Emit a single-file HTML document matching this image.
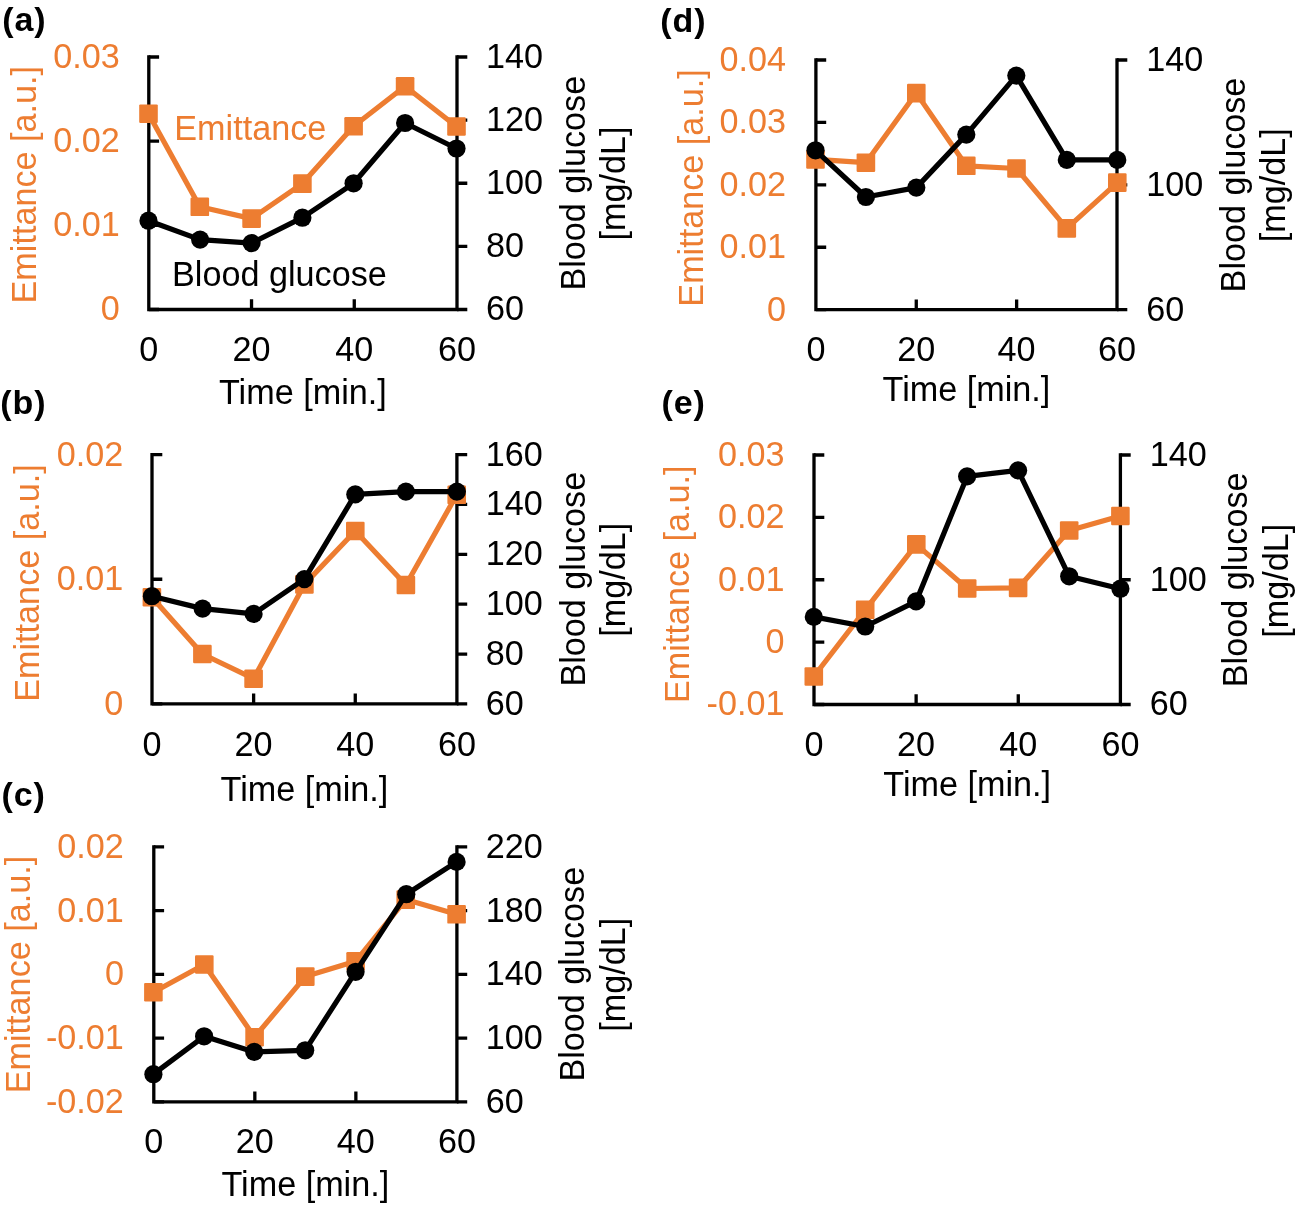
<!DOCTYPE html><html><head><meta charset="utf-8"><style>html,body{margin:0;padding:0;background:#fff;width:1298px;height:1207px;overflow:hidden}svg{display:block;will-change:transform}text{font-family:"Liberation Sans",sans-serif}</style></head><body>
<svg width="1298" height="1207" viewBox="0 0 1298 1207">
<rect width="1298" height="1207" fill="#fff"/>
<g><text x="2.3" y="31.3" font-size="34" font-weight="bold" letter-spacing="0.9" fill="#000">(a)</text><path d="M148.8 57 V309.5 H457 V57" fill="none" stroke="#000" stroke-width="3.3" stroke-linejoin="miter" stroke-linecap="square"/><path d="M148.8 309.5 H159.1 M148.8 225.33 H159.1 M148.8 141.17 H159.1 M148.8 57 H159.1 M457 309.5 H467.3 M457 246.38 H467.3 M457 183.25 H467.3 M457 120.12 H467.3 M457 57 H467.3 M251.53 309.5 V299.2 M354.27 309.5 V299.2" fill="none" stroke="#000" stroke-width="3.3"/><text x="119.7" y="320.46" font-size="34.2" fill="#ED7D31" text-anchor="end">0</text><text x="119.7" y="236.3" font-size="34.2" fill="#ED7D31" text-anchor="end">0.01</text><text x="119.7" y="152.13" font-size="34.2" fill="#ED7D31" text-anchor="end">0.02</text><text x="119.7" y="67.96" font-size="34.2" fill="#ED7D31" text-anchor="end">0.03</text><text x="485.9" y="320.46" font-size="34.2" fill="#000">60</text><text x="485.9" y="257.34" font-size="34.2" fill="#000">80</text><text x="485.9" y="194.21" font-size="34.2" fill="#000">100</text><text x="485.9" y="131.09" font-size="34.2" fill="#000">120</text><text x="485.9" y="67.96" font-size="34.2" fill="#000">140</text><text x="148.8" y="361.2" font-size="34.2" fill="#000" text-anchor="middle">0</text><text x="251.53" y="361.2" font-size="34.2" fill="#000" text-anchor="middle">20</text><text x="354.27" y="361.2" font-size="34.2" fill="#000" text-anchor="middle">40</text><text x="457" y="361.2" font-size="34.2" fill="#000" text-anchor="middle">60</text><text x="302.9" y="404" font-size="34.2" fill="#000" text-anchor="middle">Time [min.]</text><text transform="translate(35.6 184.7) rotate(-90)" font-size="34.2" fill="#ED7D31" text-anchor="middle">Emittance [a.u.]</text><text transform="translate(584.5 183.2) rotate(-90)" font-size="34.2" fill="#000" text-anchor="middle">Blood glucose</text><text transform="translate(624.5 183.6) rotate(-90)" font-size="34.2" fill="#000" text-anchor="middle">[mg/dL]</text><text x="174.3" y="139.8" font-size="34.2" fill="#ED7D31">Emittance</text><text x="172" y="285.8" font-size="34.2" fill="#000">Blood glucose</text><polyline points="148.5,113.7 199.8,206.8 251.6,218.6 302.4,183.6 353.6,126.3 405.1,86.3 456.5,126.5" fill="none" stroke="#ED7D31" stroke-width="5.2" stroke-linejoin="round"/><rect x="139.2" y="104.4" width="18.6" height="18.6" rx="1.2" fill="#ED7D31"/><rect x="190.5" y="197.5" width="18.6" height="18.6" rx="1.2" fill="#ED7D31"/><rect x="242.3" y="209.3" width="18.6" height="18.6" rx="1.2" fill="#ED7D31"/><rect x="293.1" y="174.3" width="18.6" height="18.6" rx="1.2" fill="#ED7D31"/><rect x="344.3" y="117" width="18.6" height="18.6" rx="1.2" fill="#ED7D31"/><rect x="395.8" y="77" width="18.6" height="18.6" rx="1.2" fill="#ED7D31"/><rect x="447.2" y="117.2" width="18.6" height="18.6" rx="1.2" fill="#ED7D31"/><polyline points="148.5,220.7 200.1,239.6 251.6,243.1 302.4,217.7 353.6,183.3 405.1,123 456.5,148.5" fill="none" stroke="#000" stroke-width="5.2" stroke-linejoin="round"/><circle cx="148.5" cy="220.7" r="9.1" fill="#000"/><circle cx="200.1" cy="239.6" r="9.1" fill="#000"/><circle cx="251.6" cy="243.1" r="9.1" fill="#000"/><circle cx="302.4" cy="217.7" r="9.1" fill="#000"/><circle cx="353.6" cy="183.3" r="9.1" fill="#000"/><circle cx="405.1" cy="123" r="9.1" fill="#000"/><circle cx="456.5" cy="148.5" r="9.1" fill="#000"/></g>
<g><text x="0.3" y="413.9" font-size="34" font-weight="bold" letter-spacing="0.9" fill="#000">(b)</text><path d="M152 454.6 V703.9 H456.9 V454.6" fill="none" stroke="#000" stroke-width="3.3" stroke-linejoin="miter" stroke-linecap="square"/><path d="M152 703.9 H162.3 M152 579.25 H162.3 M152 454.6 H162.3 M456.9 703.9 H467.2 M456.9 654.04 H467.2 M456.9 604.18 H467.2 M456.9 554.32 H467.2 M456.9 504.46 H467.2 M456.9 454.6 H467.2 M253.63 703.9 V693.6 M355.27 703.9 V693.6" fill="none" stroke="#000" stroke-width="3.3"/><text x="123.3" y="714.86" font-size="34.2" fill="#ED7D31" text-anchor="end">0</text><text x="123.3" y="590.21" font-size="34.2" fill="#ED7D31" text-anchor="end">0.01</text><text x="123.3" y="465.56" font-size="34.2" fill="#ED7D31" text-anchor="end">0.02</text><text x="485.8" y="714.86" font-size="34.2" fill="#000">60</text><text x="485.8" y="665" font-size="34.2" fill="#000">80</text><text x="485.8" y="615.14" font-size="34.2" fill="#000">100</text><text x="485.8" y="565.28" font-size="34.2" fill="#000">120</text><text x="485.8" y="515.42" font-size="34.2" fill="#000">140</text><text x="485.8" y="465.56" font-size="34.2" fill="#000">160</text><text x="152" y="756.3" font-size="34.2" fill="#000" text-anchor="middle">0</text><text x="253.63" y="756.3" font-size="34.2" fill="#000" text-anchor="middle">20</text><text x="355.27" y="756.3" font-size="34.2" fill="#000" text-anchor="middle">40</text><text x="456.9" y="756.3" font-size="34.2" fill="#000" text-anchor="middle">60</text><text x="304.45" y="801" font-size="34.2" fill="#000" text-anchor="middle">Time [min.]</text><text transform="translate(39 583) rotate(-90)" font-size="34.2" fill="#ED7D31" text-anchor="middle">Emittance [a.u.]</text><text transform="translate(584.5 579.2) rotate(-90)" font-size="34.2" fill="#000" text-anchor="middle">Blood glucose</text><text transform="translate(624.5 579.7) rotate(-90)" font-size="34.2" fill="#000" text-anchor="middle">[mg/dL]</text><polyline points="151.9,597.2 202.4,654 253.6,678.7 304.4,584.4 355.3,531 405.9,585 456.7,494.8" fill="none" stroke="#ED7D31" stroke-width="5.2" stroke-linejoin="round"/><rect x="142.6" y="587.9" width="18.6" height="18.6" rx="1.2" fill="#ED7D31"/><rect x="193.1" y="644.7" width="18.6" height="18.6" rx="1.2" fill="#ED7D31"/><rect x="244.3" y="669.4" width="18.6" height="18.6" rx="1.2" fill="#ED7D31"/><rect x="295.1" y="575.1" width="18.6" height="18.6" rx="1.2" fill="#ED7D31"/><rect x="346" y="521.7" width="18.6" height="18.6" rx="1.2" fill="#ED7D31"/><rect x="396.6" y="575.7" width="18.6" height="18.6" rx="1.2" fill="#ED7D31"/><rect x="447.4" y="485.5" width="18.6" height="18.6" rx="1.2" fill="#ED7D31"/><polyline points="151.9,596.2 202.6,608.6 253.6,613.9 304.4,579.1 355.3,494.4 405.9,491.6 456.9,491.6" fill="none" stroke="#000" stroke-width="5.2" stroke-linejoin="round"/><circle cx="151.9" cy="596.2" r="9.1" fill="#000"/><circle cx="202.6" cy="608.6" r="9.1" fill="#000"/><circle cx="253.6" cy="613.9" r="9.1" fill="#000"/><circle cx="304.4" cy="579.1" r="9.1" fill="#000"/><circle cx="355.3" cy="494.4" r="9.1" fill="#000"/><circle cx="405.9" cy="491.6" r="9.1" fill="#000"/><circle cx="456.9" cy="491.6" r="9.1" fill="#000"/></g>
<g><text x="1.5" y="805.6" font-size="34" font-weight="bold" letter-spacing="0.9" fill="#000">(c)</text><path d="M153.8 846.8 V1101.9 H456.9 V846.8" fill="none" stroke="#000" stroke-width="3.3" stroke-linejoin="miter" stroke-linecap="square"/><path d="M153.8 1101.9 H164.1 M153.8 1038.12 H164.1 M153.8 974.35 H164.1 M153.8 910.58 H164.1 M153.8 846.8 H164.1 M456.9 1101.9 H467.2 M456.9 1038.12 H467.2 M456.9 974.35 H467.2 M456.9 910.58 H467.2 M456.9 846.8 H467.2 M254.83 1101.9 V1091.6 M355.87 1101.9 V1091.6" fill="none" stroke="#000" stroke-width="3.3"/><text x="123.9" y="1112.86" font-size="34.2" fill="#ED7D31" text-anchor="end">-0.02</text><text x="123.9" y="1049.09" font-size="34.2" fill="#ED7D31" text-anchor="end">-0.01</text><text x="123.9" y="985.31" font-size="34.2" fill="#ED7D31" text-anchor="end">0</text><text x="123.9" y="921.54" font-size="34.2" fill="#ED7D31" text-anchor="end">0.01</text><text x="123.9" y="857.76" font-size="34.2" fill="#ED7D31" text-anchor="end">0.02</text><text x="485.8" y="1112.86" font-size="34.2" fill="#000">60</text><text x="485.8" y="1049.09" font-size="34.2" fill="#000">100</text><text x="485.8" y="985.31" font-size="34.2" fill="#000">140</text><text x="485.8" y="921.54" font-size="34.2" fill="#000">180</text><text x="485.8" y="857.76" font-size="34.2" fill="#000">220</text><text x="153.8" y="1153.3" font-size="34.2" fill="#000" text-anchor="middle">0</text><text x="254.83" y="1153.3" font-size="34.2" fill="#000" text-anchor="middle">20</text><text x="355.87" y="1153.3" font-size="34.2" fill="#000" text-anchor="middle">40</text><text x="456.9" y="1153.3" font-size="34.2" fill="#000" text-anchor="middle">60</text><text x="305.35" y="1196" font-size="34.2" fill="#000" text-anchor="middle">Time [min.]</text><text transform="translate(29.6 974.5) rotate(-90)" font-size="34.2" fill="#ED7D31" text-anchor="middle">Emittance [a.u.]</text><text transform="translate(584.3 974.2) rotate(-90)" font-size="34.2" fill="#000" text-anchor="middle">Blood glucose</text><text transform="translate(624.5 974.7) rotate(-90)" font-size="34.2" fill="#000" text-anchor="middle">[mg/dL]</text><polyline points="153.4,992.2 204.3,964.5 254.6,1037.2 305.3,976.6 355.6,961.3 405.7,899.6 456.6,914.3" fill="none" stroke="#ED7D31" stroke-width="5.2" stroke-linejoin="round"/><rect x="144.1" y="982.9" width="18.6" height="18.6" rx="1.2" fill="#ED7D31"/><rect x="195" y="955.2" width="18.6" height="18.6" rx="1.2" fill="#ED7D31"/><rect x="245.3" y="1027.9" width="18.6" height="18.6" rx="1.2" fill="#ED7D31"/><rect x="296" y="967.3" width="18.6" height="18.6" rx="1.2" fill="#ED7D31"/><rect x="346.3" y="952" width="18.6" height="18.6" rx="1.2" fill="#ED7D31"/><rect x="396.4" y="890.3" width="18.6" height="18.6" rx="1.2" fill="#ED7D31"/><rect x="447.3" y="905" width="18.6" height="18.6" rx="1.2" fill="#ED7D31"/><polyline points="153.4,1074.2 204.1,1036.3 254.2,1051.9 305.2,1050.3 355.6,971.8 406.3,894.2 456.6,861.9" fill="none" stroke="#000" stroke-width="5.2" stroke-linejoin="round"/><circle cx="153.4" cy="1074.2" r="9.1" fill="#000"/><circle cx="204.1" cy="1036.3" r="9.1" fill="#000"/><circle cx="254.2" cy="1051.9" r="9.1" fill="#000"/><circle cx="305.2" cy="1050.3" r="9.1" fill="#000"/><circle cx="355.6" cy="971.8" r="9.1" fill="#000"/><circle cx="406.3" cy="894.2" r="9.1" fill="#000"/><circle cx="456.6" cy="861.9" r="9.1" fill="#000"/></g>
<g><text x="660.3" y="31.5" font-size="34" font-weight="bold" letter-spacing="0.9" fill="#000">(d)</text><path d="M815.9 60 V309.7 H1117 V60" fill="none" stroke="#000" stroke-width="3.3" stroke-linejoin="miter" stroke-linecap="square"/><path d="M815.9 309.7 H826.2 M815.9 247.27 H826.2 M815.9 184.85 H826.2 M815.9 122.43 H826.2 M815.9 60 H826.2 M1117 309.7 H1127.3 M1117 184.85 H1127.3 M1117 60 H1127.3 M916.27 309.7 V299.4 M1016.63 309.7 V299.4" fill="none" stroke="#000" stroke-width="3.3"/><text x="786" y="320.66" font-size="34.2" fill="#ED7D31" text-anchor="end">0</text><text x="786" y="258.24" font-size="34.2" fill="#ED7D31" text-anchor="end">0.01</text><text x="786" y="195.81" font-size="34.2" fill="#ED7D31" text-anchor="end">0.02</text><text x="786" y="133.39" font-size="34.2" fill="#ED7D31" text-anchor="end">0.03</text><text x="786" y="70.96" font-size="34.2" fill="#ED7D31" text-anchor="end">0.04</text><text x="1146.2" y="320.66" font-size="34.2" fill="#000">60</text><text x="1146.2" y="195.81" font-size="34.2" fill="#000">100</text><text x="1146.2" y="70.96" font-size="34.2" fill="#000">140</text><text x="815.9" y="361.3" font-size="34.2" fill="#000" text-anchor="middle">0</text><text x="916.27" y="361.3" font-size="34.2" fill="#000" text-anchor="middle">20</text><text x="1016.63" y="361.3" font-size="34.2" fill="#000" text-anchor="middle">40</text><text x="1117" y="361.3" font-size="34.2" fill="#000" text-anchor="middle">60</text><text x="966.45" y="401" font-size="34.2" fill="#000" text-anchor="middle">Time [min.]</text><text transform="translate(702.6 187.9) rotate(-90)" font-size="34.2" fill="#ED7D31" text-anchor="middle">Emittance [a.u.]</text><text transform="translate(1244.5 185) rotate(-90)" font-size="34.2" fill="#000" text-anchor="middle">Blood glucose</text><text transform="translate(1285 185.3) rotate(-90)" font-size="34.2" fill="#000" text-anchor="middle">[mg/dL]</text><polyline points="815.5,159.4 865.9,162.7 916.3,93.1 966.3,165.8 1016.5,168.5 1066.8,228.4 1117.3,182.6" fill="none" stroke="#ED7D31" stroke-width="5.2" stroke-linejoin="round"/><rect x="806.2" y="150.1" width="18.6" height="18.6" rx="1.2" fill="#ED7D31"/><rect x="856.6" y="153.4" width="18.6" height="18.6" rx="1.2" fill="#ED7D31"/><rect x="907" y="83.8" width="18.6" height="18.6" rx="1.2" fill="#ED7D31"/><rect x="957" y="156.5" width="18.6" height="18.6" rx="1.2" fill="#ED7D31"/><rect x="1007.2" y="159.2" width="18.6" height="18.6" rx="1.2" fill="#ED7D31"/><rect x="1057.5" y="219.1" width="18.6" height="18.6" rx="1.2" fill="#ED7D31"/><rect x="1108" y="173.3" width="18.6" height="18.6" rx="1.2" fill="#ED7D31"/><polyline points="815.5,150.3 865.9,197 916.3,187.6 966.3,134.6 1016.3,75.6 1066.8,159.9 1117.3,159.9" fill="none" stroke="#000" stroke-width="5.2" stroke-linejoin="round"/><circle cx="815.5" cy="150.3" r="9.1" fill="#000"/><circle cx="865.9" cy="197" r="9.1" fill="#000"/><circle cx="916.3" cy="187.6" r="9.1" fill="#000"/><circle cx="966.3" cy="134.6" r="9.1" fill="#000"/><circle cx="1016.3" cy="75.6" r="9.1" fill="#000"/><circle cx="1066.8" cy="159.9" r="9.1" fill="#000"/><circle cx="1117.3" cy="159.9" r="9.1" fill="#000"/></g>
<g><text x="661.5" y="414.1" font-size="34" font-weight="bold" letter-spacing="0.9" fill="#000">(e)</text><path d="M814 455 V704.5 H1120.4 V455" fill="none" stroke="#000" stroke-width="3.3" stroke-linejoin="miter" stroke-linecap="square"/><path d="M814 704.5 H824.3 M814 642.12 H824.3 M814 579.75 H824.3 M814 517.38 H824.3 M814 455 H824.3 M1120.4 704.5 H1130.7 M1120.4 579.75 H1130.7 M1120.4 455 H1130.7 M916.13 704.5 V694.2 M1018.27 704.5 V694.2" fill="none" stroke="#000" stroke-width="3.3"/><text x="784.5" y="715.46" font-size="34.2" fill="#ED7D31" text-anchor="end">-0.01</text><text x="784.5" y="653.09" font-size="34.2" fill="#ED7D31" text-anchor="end">0</text><text x="784.5" y="590.71" font-size="34.2" fill="#ED7D31" text-anchor="end">0.01</text><text x="784.5" y="528.34" font-size="34.2" fill="#ED7D31" text-anchor="end">0.02</text><text x="784.5" y="465.96" font-size="34.2" fill="#ED7D31" text-anchor="end">0.03</text><text x="1149.8" y="715.46" font-size="34.2" fill="#000">60</text><text x="1149.8" y="590.71" font-size="34.2" fill="#000">100</text><text x="1149.8" y="465.96" font-size="34.2" fill="#000">140</text><text x="814" y="756.3" font-size="34.2" fill="#000" text-anchor="middle">0</text><text x="916.13" y="756.3" font-size="34.2" fill="#000" text-anchor="middle">20</text><text x="1018.27" y="756.3" font-size="34.2" fill="#000" text-anchor="middle">40</text><text x="1120.4" y="756.3" font-size="34.2" fill="#000" text-anchor="middle">60</text><text x="967.2" y="796" font-size="34.2" fill="#000" text-anchor="middle">Time [min.]</text><text transform="translate(689.4 584.2) rotate(-90)" font-size="34.2" fill="#ED7D31" text-anchor="middle">Emittance [a.u.]</text><text transform="translate(1247 579.8) rotate(-90)" font-size="34.2" fill="#000" text-anchor="middle">Blood glucose</text><text transform="translate(1288 580.7) rotate(-90)" font-size="34.2" fill="#000" text-anchor="middle">[mg/dL]</text><polyline points="813.8,676.5 865.2,609.8 916.3,544.4 967.2,588.5 1018.1,587.9 1069.2,530.5 1120.4,516" fill="none" stroke="#ED7D31" stroke-width="5.2" stroke-linejoin="round"/><rect x="804.5" y="667.2" width="18.6" height="18.6" rx="1.2" fill="#ED7D31"/><rect x="855.9" y="600.5" width="18.6" height="18.6" rx="1.2" fill="#ED7D31"/><rect x="907" y="535.1" width="18.6" height="18.6" rx="1.2" fill="#ED7D31"/><rect x="957.9" y="579.2" width="18.6" height="18.6" rx="1.2" fill="#ED7D31"/><rect x="1008.8" y="578.6" width="18.6" height="18.6" rx="1.2" fill="#ED7D31"/><rect x="1059.9" y="521.2" width="18.6" height="18.6" rx="1.2" fill="#ED7D31"/><rect x="1111.1" y="506.7" width="18.6" height="18.6" rx="1.2" fill="#ED7D31"/><polyline points="813.8,616.9 865.2,626.5 916.1,601.4 967.1,476.4 1018.1,470.4 1069.2,576.3 1120.4,588.7" fill="none" stroke="#000" stroke-width="5.2" stroke-linejoin="round"/><circle cx="813.8" cy="616.9" r="9.1" fill="#000"/><circle cx="865.2" cy="626.5" r="9.1" fill="#000"/><circle cx="916.1" cy="601.4" r="9.1" fill="#000"/><circle cx="967.1" cy="476.4" r="9.1" fill="#000"/><circle cx="1018.1" cy="470.4" r="9.1" fill="#000"/><circle cx="1069.2" cy="576.3" r="9.1" fill="#000"/><circle cx="1120.4" cy="588.7" r="9.1" fill="#000"/></g>
</svg></body></html>
